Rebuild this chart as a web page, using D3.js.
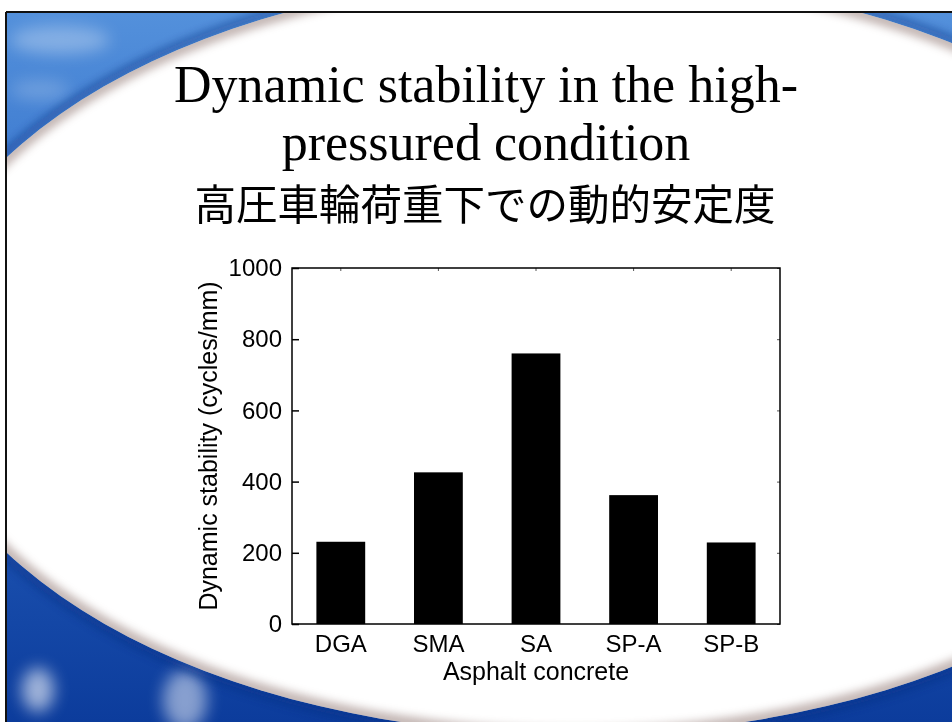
<!DOCTYPE html>
<html>
<head>
<meta charset="utf-8">
<script src="https://cdn.jsdelivr.net/npm/d3@7"></script>
<style>
  body { margin: 0; background: #fff; }
  svg { display: block; }
</style>
</head>
<body>
<script>
const categories = ["DGA", "SMA", "SA", "SP-A", "SP-B"]
const values = [231, 426, 760, 362, 229]
const yTicks = [0, 200, 400, 600, 800, 1000]

const titleLines = ["Dynamic stability in the high-", "pressured condition"]
const titleJa = "高圧車輪荷重下での動的安定度"
const xTitle = "Asphalt concrete"
const yTitle = "Dynamic stability (cycles/mm)"

var width = 952,
    height = 722;

var svg = d3.select("body").append("svg")
    .attr("width", width)
    .attr("height", height);

var defs = svg.append("defs");

// slide background: blue corners around a big white ellipse
var grad = defs.append("linearGradient")
    .attr("id", "blue")
    .attr("x1", 0).attr("y1", 0).attr("x2", 0).attr("y2", 1);
grad.append("stop").attr("offset", "0%").attr("stop-color", "#5592dc");
grad.append("stop").attr("offset", "40%").attr("stop-color", "#2f6cc8");
grad.append("stop").attr("offset", "100%").attr("stop-color", "#0c3c9c");

defs.append("filter").attr("id", "soft")
    .attr("x", "-50%").attr("y", "-50%").attr("width", "200%").attr("height", "200%")
  .append("feGaussianBlur").attr("stdDeviation", 8);
defs.append("filter").attr("id", "edge")
    .attr("x", "-10%").attr("y", "-10%").attr("width", "120%").attr("height", "120%")
  .append("feGaussianBlur").attr("stdDeviation", 4);

var ell = {cx: 573, cy: 355, rx: 663, ry: 380};

defs.append("clipPath").attr("id", "frame")
  .append("rect").attr("x", 6).attr("y", 12).attr("width", width).attr("height", height);
defs.append("clipPath").attr("id", "inner")
  .append("ellipse").attr("cx", ell.cx).attr("cy", ell.cy).attr("rx", ell.rx).attr("ry", ell.ry);

var bg = svg.append("g").attr("clip-path", "url(#frame)");

bg.append("rect")
    .attr("x", 0).attr("y", 0)
    .attr("width", width).attr("height", height)
    .attr("fill", "url(#blue)");

// a few cloudy patches in the blue
var clouds = bg.append("g").attr("filter", "url(#soft)").attr("fill", "#ffffff");
clouds.append("ellipse").attr("cx", 60).attr("cy", 40).attr("rx", 50).attr("ry", 14).attr("opacity", 0.3);
clouds.append("ellipse").attr("cx", 40).attr("cy", 90).attr("rx", 30).attr("ry", 10).attr("opacity", 0.2);
clouds.append("ellipse").attr("cx", 38).attr("cy", 690).attr("rx", 16).attr("ry", 22).attr("opacity", 0.6);
clouds.append("ellipse").attr("cx", 185).attr("cy", 700).attr("rx", 22).attr("ry", 30).attr("opacity", 0.5);

// dark rim along the ellipse edge
bg.append("ellipse")
    .attr("cx", ell.cx).attr("cy", ell.cy)
    .attr("rx", ell.rx + 4).attr("ry", ell.ry + 4)
    .attr("fill", "none")
    .attr("stroke", "#0a2f80")
    .attr("stroke-width", 6)
    .attr("opacity", 0.6)
    .attr("filter", "url(#edge)");

bg.append("ellipse")
    .attr("cx", ell.cx).attr("cy", ell.cy)
    .attr("rx", ell.rx).attr("ry", ell.ry)
    .attr("fill", "#ffffff");

// brownish shade just inside the white
bg.append("g").attr("clip-path", "url(#inner)")
  .append("ellipse")
    .attr("cx", ell.cx).attr("cy", ell.cy)
    .attr("rx", ell.rx).attr("ry", ell.ry)
    .attr("fill", "none")
    .attr("stroke", "#8a6f6a")
    .attr("stroke-width", 14)
    .attr("opacity", 0.5)
    .attr("filter", "url(#edge)");

// frame lines
svg.append("line").attr("x1", 6).attr("y1", 12).attr("x2", width).attr("y2", 12)
    .attr("stroke", "#111").attr("stroke-width", 2);
svg.append("line").attr("x1", 6).attr("y1", 12).attr("x2", 6).attr("y2", height)
    .attr("stroke", "#111").attr("stroke-width", 2);

// titles
svg.append("g")
    .attr("font-family", "'Liberation Serif', 'Times New Roman', serif")
    .attr("font-size", 52)
    .attr("text-anchor", "middle")
  .selectAll("text")
  .data(titleLines)
  .join("text")
    .attr("x", 486)
    .attr("y", (d, i) => 102 + i * 58)
    .text(d => d);

svg.append("text")
    .attr("x", 485)
    .attr("y", 220)
    .attr("text-anchor", "middle")
    .attr("font-family", "'Noto Sans CJK JP', sans-serif")
    .attr("font-size", 41.5)
    .text(titleJa);

// chart
var m = {left: 292, top: 268, right: 780, bottom: 624};

var x = d3.scaleBand()
    .domain(categories)
    .range([m.left, m.right])
    .paddingInner(0.5)
    .paddingOuter(0.25);

var y = d3.scaleLinear()
    .domain([0, 1000])
    .range([m.bottom, m.top]);

var chart = svg.append("g")
    .attr("font-family", "'Liberation Sans', Arial, sans-serif");

chart.append("g")
  .selectAll("rect")
  .data(values)
  .join("rect")
    .attr("x", (d, i) => x(categories[i]))
    .attr("y", d => y(d))
    .attr("width", x.bandwidth())
    .attr("height", d => y(0) - y(d))
    .attr("fill", "#000");

// left axis, ticks pointing in
var yAxis = chart.append("g")
    .attr("transform", `translate(${m.left},0)`)
    .call(d3.axisLeft(y).tickValues(yTicks).tickSize(-7).tickPadding(10).tickFormat(d3.format("d")));
yAxis.select(".domain").remove();
yAxis.attr("font-family", null);
yAxis.selectAll("line").attr("stroke", "#000").attr("stroke-width", 1.5);
yAxis.selectAll("text").attr("font-size", 24).attr("fill", "#000");

var yRight = chart.append("g")
    .attr("transform", `translate(${m.right},0)`)
    .call(d3.axisRight(y).tickValues(yTicks).tickSize(-3).tickFormat(""));
yRight.select(".domain").remove();
yRight.selectAll("line").attr("stroke", "#555");

var xTop = chart.append("g")
    .attr("transform", `translate(0,${m.top})`)
    .call(d3.axisTop(x).tickSize(-3).tickFormat(""));
xTop.select(".domain").remove();
xTop.selectAll("line").attr("stroke", "#555");

var xAxis = chart.append("g")
    .attr("transform", `translate(0,${m.bottom})`)
    .call(d3.axisBottom(x).tickSize(0).tickPadding(28));
xAxis.select(".domain").remove();
xAxis.attr("font-family", null);
xAxis.selectAll("text").attr("font-size", 24).attr("fill", "#000").attr("dy", 0);

// plot frame
chart.append("rect")
    .attr("x", m.left).attr("y", m.top)
    .attr("width", m.right - m.left).attr("height", m.bottom - m.top)
    .attr("fill", "none")
    .attr("stroke", "#000")
    .attr("stroke-width", 1.5);

chart.append("text")
    .attr("x", (m.left + m.right) / 2)
    .attr("y", 680)
    .attr("text-anchor", "middle")
    .attr("font-size", 25)
    .text(xTitle);

chart.append("text")
    .attr("transform", `translate(217,${(m.top + m.bottom) / 2}) rotate(-90)`)
    .attr("text-anchor", "middle")
    .attr("font-size", 25)
    .text(yTitle);
</script>
</body>
</html>
